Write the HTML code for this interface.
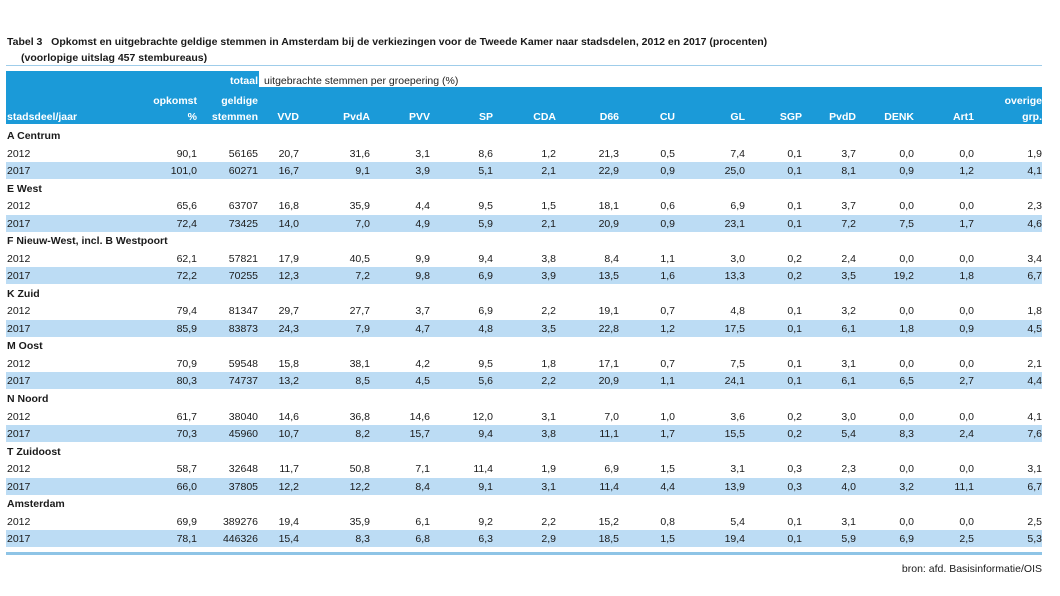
<!DOCTYPE html>
<html><head><meta charset="utf-8">
<style>
body{margin:0;background:#fff;width:1060px;height:596px;overflow:hidden;font-family:"Liberation Sans",sans-serif;color:#1a1a1a;}
#wrap{position:relative;width:1060px;height:596px;}
.t{position:absolute;font-size:10.5px;line-height:12px;white-space:nowrap;}
.r{text-align:right;}
.b{font-weight:bold;}
.hd{color:#fff;font-weight:bold;}
.abs{position:absolute;}
</style></head><body>
<div id="wrap">
<div class="t b" style="left:7px;top:36px;font-size:10.5px">Tabel 3&nbsp;&nbsp;&nbsp;Opkomst en uitgebrachte geldige stemmen in Amsterdam bij de verkiezingen voor de Tweede Kamer naar stadsdelen, 2012 en 2017 (procenten)</div>
<div class="t b" style="left:21px;top:52px">(voorlopige uitslag 457 stembureaus)</div>
<div class="abs" style="left:6px;top:65px;width:1036px;height:1px;background:#9fcdea"></div>
<div class="abs" style="left:6px;top:71px;width:253px;height:53px;background:#1b9ad8"></div>
<div class="abs" style="left:259px;top:87px;width:783px;height:37px;background:#1b9ad8"></div>
<div class="t" style="left:264px;top:75px;color:#222">uitgebrachte stemmen per groepering (%)</div>
<div class="t hd r" style="left:200px;width:58px;top:75px">totaal</div>
<div class="t hd r" style="left:130px;width:67px;top:95px">opkomst</div>
<div class="t hd r" style="left:200px;width:58px;top:95px">geldige</div>
<div class="t hd r" style="left:980px;width:62px;top:95px">overige</div>
<div class="t hd" style="left:7px;top:111px">stadsdeel/jaar</div>
<div id="hdrs"></div>
<div id="body"></div>
<div class="abs" style="left:6px;top:552px;width:1036px;height:3px;background:#8ec4e6"></div>
<div class="t r" style="left:800px;width:242px;top:563px">bron: afd. Basisinformatie/OIS</div>
</div>
<script>
const headers=["%","stemmen","VVD","PvdA","PVV","SP","CDA","D66","CU","GL","SGP","PvdD","DENK","Art1","grp."];
const groups=["A Centrum","E West","F Nieuw-West, incl. B Westpoort","K Zuid","M Oost","N Noord","T Zuidoost","Amsterdam"];
const years=["2012","2017"];
const rows2012=[
["90,1","56165","20,7","31,6","3,1","8,6","1,2","21,3","0,5","7,4","0,1","3,7","0,0","0,0","1,9"],
["65,6","63707","16,8","35,9","4,4","9,5","1,5","18,1","0,6","6,9","0,1","3,7","0,0","0,0","2,3"],
["62,1","57821","17,9","40,5","9,9","9,4","3,8","8,4","1,1","3,0","0,2","2,4","0,0","0,0","3,4"],
["79,4","81347","29,7","27,7","3,7","6,9","2,2","19,1","0,7","4,8","0,1","3,2","0,0","0,0","1,8"],
["70,9","59548","15,8","38,1","4,2","9,5","1,8","17,1","0,7","7,5","0,1","3,1","0,0","0,0","2,1"],
["61,7","38040","14,6","36,8","14,6","12,0","3,1","7,0","1,0","3,6","0,2","3,0","0,0","0,0","4,1"],
["58,7","32648","11,7","50,8","7,1","11,4","1,9","6,9","1,5","3,1","0,3","2,3","0,0","0,0","3,1"],
["69,9","389276","19,4","35,9","6,1","9,2","2,2","15,2","0,8","5,4","0,1","3,1","0,0","0,0","2,5"]];
const rows2017=[
["101,0","60271","16,7","9,1","3,9","5,1","2,1","22,9","0,9","25,0","0,1","8,1","0,9","1,2","4,1"],
["72,4","73425","14,0","7,0","4,9","5,9","2,1","20,9","0,9","23,1","0,1","7,2","7,5","1,7","4,6"],
["72,2","70255","12,3","7,2","9,8","6,9","3,9","13,5","1,6","13,3","0,2","3,5","19,2","1,8","6,7"],
["85,9","83873","24,3","7,9","4,7","4,8","3,5","22,8","1,2","17,5","0,1","6,1","1,8","0,9","4,5"],
["80,3","74737","13,2","8,5","4,5","5,6","2,2","20,9","1,1","24,1","0,1","6,1","6,5","2,7","4,4"],
["70,3","45960","10,7","8,2","15,7","9,4","3,8","11,1","1,7","15,5","0,2","5,4","8,3","2,4","7,6"],
["66,0","37805","12,2","12,2","8,4","9,1","3,1","11,4","4,4","13,9","0,3","4,0","3,2","11,1","6,7"],
["78,1","446326","15,4","8,3","6,8","6,3","2,9","18,5","1,5","19,4","0,1","5,9","6,9","2,5","5,3"]];
const colRight=[197,258,299,370,430,493,556,619,675,745,802,856,914,974,1042];
const H=document.getElementById('hdrs'),B=document.getElementById('body');
function txt(parent,s,right,top,cls){const d=document.createElement('div');d.className='t r '+cls;d.style.left=(right-80)+'px';d.style.width='80px';d.style.top=top+'px';d.textContent=s;parent.appendChild(d);return d;}
headers.forEach((h,i)=>{const d=txt(H,h,colRight[i],111,'hd');

});
groups.forEach((g,gi)=>{
 const base=130+gi*52.6;
 const l=document.createElement('div');l.className='t b';l.style.left='7px';l.style.top=base+'px';l.textContent=g;
 
 
 B.appendChild(l);
 [rows2012[gi],rows2017[gi]].forEach((row,yi)=>{
  const top=base+17.5*(yi+1);
  if(yi===1){const bg=document.createElement('div');bg.className='abs';bg.style.left='6px';bg.style.width='1036px';bg.style.top=(top-3)+'px';bg.style.height='17px';bg.style.background='#bcdcf4';
   
   
   B.appendChild(bg);}
  const y=document.createElement('div');y.className='t';y.style.left='7px';y.style.top=top+'px';y.textContent=years[yi];
  
  
  B.appendChild(y);
  row.forEach((v,ci)=>{const c=txt(B,v,colRight[ci],top,'');
   
   });
 });
});
</script>
</body></html>
